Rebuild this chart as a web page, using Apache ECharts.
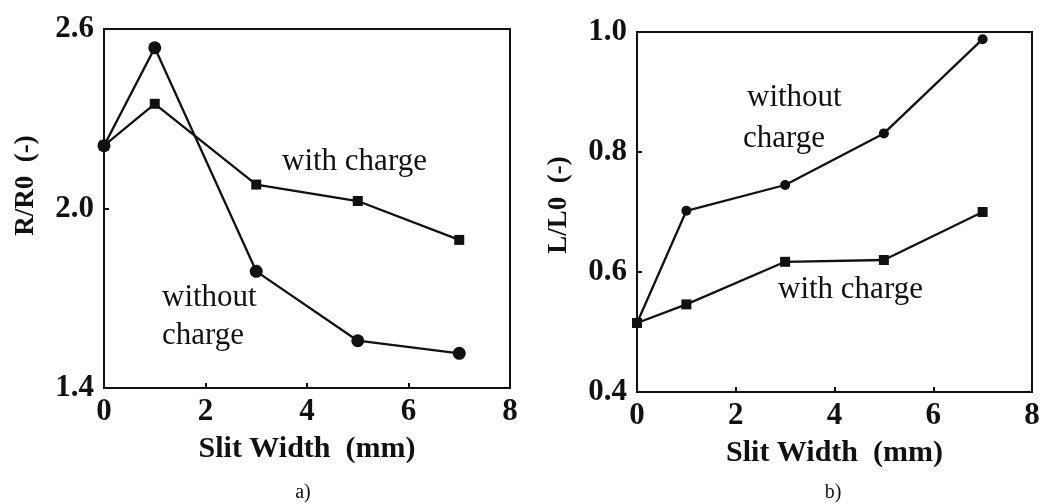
<!DOCTYPE html>
<html>
<head>
<meta charset="utf-8">
<script src="https://cdn.jsdelivr.net/npm/echarts@6/dist/echarts.min.js"></script>
<style>
  html, body { margin: 0; padding: 0; background: #fff; }
  #chart { width: 1045px; height: 504px; }
</style>
</head>
<body>
<div id="chart"></div>
<script>
// Slit widths (mm)
const slitWidth = [0, 1, 3, 5, 7];

// a) normalised R/R0
const rWithCharge = [2.21, 2.35, 2.08, 2.025, 1.895];
const rWithoutCharge = [2.21, 2.537, 1.79, 1.558, 1.516];

// b) normalised L/L0
const lWithCharge = [0.515, 0.546, 0.617, 0.62, 0.70];
const lWithoutCharge = [0.515, 0.702, 0.745, 0.831, 0.988];

// Axis tick values
const xTicks = [0, 2, 4, 6, 8];
const rTicks = [1.4, 2.0, 2.6];
const lTicks = [0.4, 0.6, 0.8, 1.0];

const FONT = '"Liberation Serif", "DejaVu Serif", serif';

function pairs(xs, ys) { return xs.map((x, i) => [x, ys[i]]); }

function xAxisFor(gridIndex) {
  return {
    type: 'value', gridIndex, min: 0, max: 8,
    name: 'Slit Width  (mm)', nameLocation: 'middle', nameGap: 46,
    nameTextStyle: { fontFamily: FONT, fontWeight: 'bold', fontSize: 30, color: '#111' },
    axisLine: { lineStyle: { color: '#111', width: 2 } },
    axisTick: { inside: true, length: 5, customValues: xTicks, lineStyle: { color: '#111', width: 2 } },
    axisLabel: { customValues: xTicks, fontFamily: FONT, fontWeight: 'bold', fontSize: 31, color: '#111', margin: 8 },
    splitLine: { show: false }
  };
}

function yAxisFor(gridIndex, min, max, ticks, name, shiftUp) {
  return {
    type: 'value', gridIndex, min, max,
    name, nameLocation: 'middle', nameGap: 64, nameRotate: 90,
    nameTextStyle: { fontFamily: FONT, fontWeight: 'bold', fontSize: 27, color: '#111',
                     padding: [0, 0, 0, shiftUp] },
    axisLine: { lineStyle: { color: '#111', width: 2 } },
    axisTick: { inside: true, length: 5, customValues: ticks, lineStyle: { color: '#111', width: 2 } },
    axisLabel: { customValues: ticks, fontFamily: FONT, fontWeight: 'bold', fontSize: 31, color: '#111', margin: 10,
                 formatter: v => v.toFixed(1) },
    splitLine: { show: false }
  };
}

function lineSeries(idx, data, symbol, size) {
  return {
    type: 'line', xAxisIndex: idx, yAxisIndex: idx, data,
    symbol, symbolSize: size, showAllSymbol: true,
    lineStyle: { color: '#111', width: 2.3 },
    itemStyle: { color: '#111', borderWidth: 0 },
    emphasis: { disabled: true }, animation: false
  };
}

function note(text, x, y, align) {
  return {
    type: 'text', x, y,
    style: { text, fontFamily: FONT, fontSize: 31, fill: '#111',
             align: align || 'left', verticalAlign: 'middle' }
  };
}

const chart = echarts.init(document.getElementById('chart'), null, { renderer: 'canvas' });
chart.setOption({
  backgroundColor: '#fff',
  animation: false,
  grid: [
    { left: 104, top: 29, width: 406, height: 359, show: true, borderColor: '#111', borderWidth: 2, backgroundColor: 'transparent' },
    { left: 637, top: 32, width: 395, height: 360, show: true, borderColor: '#111', borderWidth: 2, backgroundColor: 'transparent' }
  ],
  xAxis: [xAxisFor(0), xAxisFor(1)],
  yAxis: [
    yAxisFor(0, 1.4, 2.6, rTicks, 'R/R0  (-)', 46),
    yAxisFor(1, 0.4, 1.0, lTicks, 'L/L0  (-)', 14)
  ],
  series: [
    lineSeries(0, pairs(slitWidth, rWithCharge), 'rect', 10),
    lineSeries(0, pairs(slitWidth, rWithoutCharge), 'circle', 13),
    lineSeries(1, pairs(slitWidth, lWithCharge), 'rect', 10),
    lineSeries(1, pairs(slitWidth, lWithoutCharge), 'circle', 10)
  ],
  graphic: [
    note('with charge', 282, 162),
    note('without', 162, 298),
    note('charge', 162, 336),
    note('without', 747, 98),
    note('charge', 743, 139),
    note('with charge', 778, 290),
    { type: 'text', x: 303, y: 493, style: { text: 'a)', fontFamily: FONT, fontSize: 20, fill: '#111', align: 'center', verticalAlign: 'middle' } },
    { type: 'text', x: 833, y: 493, style: { text: 'b)', fontFamily: FONT, fontSize: 20, fill: '#111', align: 'center', verticalAlign: 'middle' } }
  ]
});
</script>
</body>
</html>
